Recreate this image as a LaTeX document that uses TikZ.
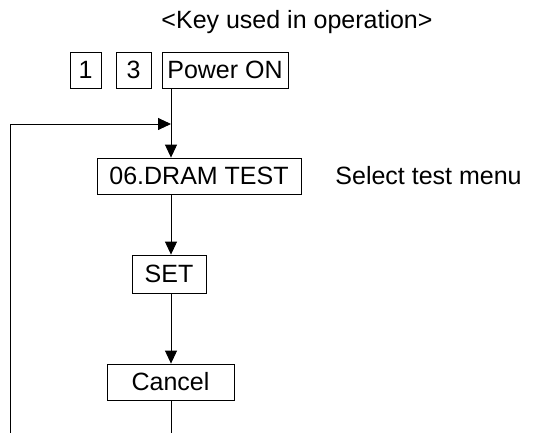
\documentclass[tikz,border=0pt]{standalone}
\usepackage{fontspec}
\setmainfont{Liberation Sans}
\usetikzlibrary{arrows.meta}

\begin{document}
\begin{tikzpicture}[
		x=1pt, y=-1pt,
		line width=0.9pt,
		>={Triangle[length=13pt,width=12pt]},
		font=\fontsize{25}{29}\selectfont,
		every node/.style={inner sep=0pt},
		keybox/.style={draw,minimum height=36pt,line width=0.8pt}
	]
		\useasboundingbox (0,0) rectangle (549,433);

		% Keys
		\node (title) at (297,22) {<Key used in operation>};
		\node[keybox, minimum width=31pt] (k1) at (85.5,70) {1};
		\node[keybox, minimum width=35pt] (k3) at (133.5,70) {3};
		\node[keybox, minimum width=126pt] (power) at (225,70) {Power ON};

		% Menu steps
		\node[keybox, minimum width=204pt] (dram) at (199,176) {06.DRAM TEST};
		\node[anchor=west] (hint) at (335,176) {Select test menu};
		\node[keybox, minimum width=74pt, minimum height=38pt] (set) at (169,274) {SET};
		\node[keybox, minimum width=127pt] (cancel) at (170.5,382) {Cancel};

		% Free ends
		\coordinate (flow) at (171,0);
		\coordinate (merge) at (171,124);
		\coordinate (loop) at (10,433);
		\coordinate (exit) at (171,433);

		% Connectors
		\draw[->] (power.south -| flow) -- (dram.north -| flow);
		\draw[->] (loop) |- (merge);
		\draw[->] (dram.south -| flow) -- (set.north -| flow);
		\draw[->] (set.south -| flow) -- (cancel.north -| flow);
		\draw (cancel.south -| flow) -- (exit);
	\end{tikzpicture}
\end{document}
